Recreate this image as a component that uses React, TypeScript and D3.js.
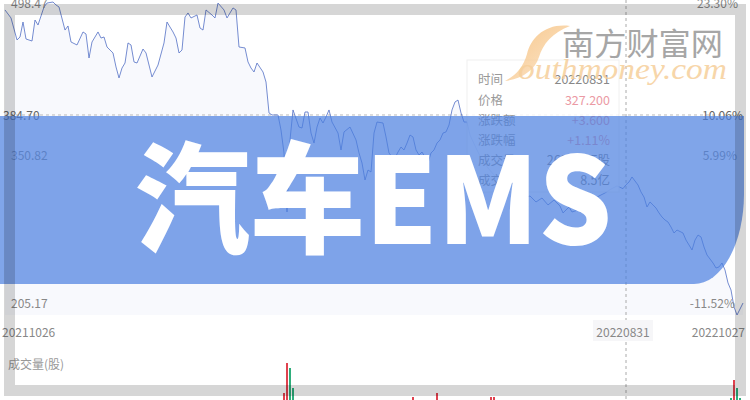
import React from 'react';
import * as d3 from 'd3';

const days = [0,2,4,5,6,7,9,10,11,13,14,16,17,18,20,21,22,24,26,27,28,29,31,32,33,34,36,37,38,39,40,41,42,43,44,46,47,49,51,53,54,55,56,57,58,59,60,61,62,64,65,66,67,69,70,71,73,74,76,77,78,80,81,82,83,84,86,87,88,89,91,92,93,94,95,96,98,99,100,101,102,103,104,105,106,107,108,109,111,112,113,115,117,118,119,120,121,122,123,124,126,127,128,129,130,131,132,133,134,135,136,137,138,139,140,141,142,143,144,145,146,147,148,149,150,151,152,153,154,155,157,159,161,163,165,167,169,171,173,175,177,179,181,183,185,186,188,189,191,192,194,196,198,200,202,204,206,207,208,209,211,212,213,214,215,216,217,218,219,220,221,222,223,224,226,227,228,229,230,231,232,233,234,236,237,238,239,240,241,242,243,244,246];
const prices = [491.0,483.5,462.9,465.7,479.7,463.8,461.9,481.6,476.9,493.8,497.5,498.47,495.7,493.8,472.2,476.0,461.0,458.2,470.4,468.5,446.0,461.0,470.4,464.7,465.7,456.3,450.7,437.6,427.3,436.6,441.3,460.1,458.2,442.3,441.3,454.4,450.7,428.2,439.4,460.1,479.7,475.0,470.4,464.7,450.7,453.5,484.4,488.2,483.5,486.3,474.1,472.2,491.0,486.3,483.5,497.5,491.0,483.5,492.9,491.0,456.3,455.4,442.3,436.6,432.9,441.3,432.9,423.5,394.5,392.6,392.6,378.5,357.0,301.7,369.2,397.3,381.3,380.4,395.4,395.4,375.7,366.3,381.3,389.8,385.1,390.7,397.3,386.0,375.7,359.8,376.7,381.3,369.2,357.0,347.6,331.7,341.0,339.2,375.7,386.0,385.1,372.0,357.0,353.2,352.3,357.9,362.6,359.8,366.3,373.8,372.0,359.8,355.1,357.9,353.2,347.6,357.0,359.8,366.3,369.2,375.7,376.7,383.2,397.3,404.8,406.6,394.5,386.0,386.0,373.8,361.7,350.4,342.9,336.4,331.7,326.1,322.3,319.5,314.8,316.7,311.1,314.8,308.3,312.9,307.3,300.8,306.4,301.7,303.6,300.8,307.3,312.9,316.7,319.5,323.2,326.1,323.6,327.2,329.8,334.5,327.0,320.4,315.7,306.4,311.1,308.3,305.4,300.8,297.0,294.2,292.3,287.6,282.0,284.8,282.0,275.4,270.8,266.1,275.4,280.1,278.3,268.9,261.4,253.9,249.2,250.2,253.9,247.3,235.2,228.6,212.7,205.17,216.4];

const volDays = [93,94,95,96,136,144,162,163,242,243,244,245];
const volumes = [7000,37000,32000,12000,3000,7000,3000,3000,2000,20000,12000,2000];
const volUp = [true,true,false,false,true,true,true,true,false,true,false,false];

const dateLabels = ['20211026','20220831','20221027'];
const dateDays = [0,207,246];
const priceLabels = ['498.47','384.70','350.82','205.17'];
const priceLevels = [498.47,392.6,350.82,205.17];
const pctLabels = ['23.30%','10.06%','5.99%','-11.52%'];
const tipLabels = ['时间','价格','涨跌额','涨跌幅','成交量','成交额'];
const tipValues = ['20220831','327.200','+3.600','+1.11%','2620.7万股','8.5亿'];
const crossDay = 207;
const crossLevel = 392.6;
const title = '汽车EMS';

const W = 750, H = 400;
const FONT = '"Noto Sans CJK SC", "Noto Sans", sans-serif';

export default function App() {
  const x = d3.scaleLinear().domain([0, 246]).range([5, 743]);
  const y = d3.scaleLinear().domain([205.17, 498.47]).range([315, 2]);
  const vh = d3.scaleLinear().domain([0, 40000]).range([0, 40]);
  const pts = days.map((d, i) => [d, prices[i]] as [number, number]);
  const line = d3.line<[number, number]>().x(d => x(d[0])).y(d => y(d[1]))(pts) || '';
  const area = d3.area<[number, number]>().x(d => x(d[0])).y0(315).y1(d => y(d[1]))(pts) || '';
  const cx = x(crossDay);
  const cy = y(crossLevel);
  const leftX = [11, 3, 11, 11];
  const leftDy = [6, 5, 0, -7];
  const rightX = [738, 743, 737, 735];
  const tipRowY = [79, 100, 120, 140, 160, 180];

  return (
    <svg width={W} height={H} style={{ position: 'absolute', left: 0, top: 0, background: '#fff' }} fontFamily={FONT}>
      <defs>
        <linearGradient id="sw" x1="0" y1="0" x2="1" y2="1">
          <stop offset="0" stopColor="#f4b261" />
          <stop offset="1" stopColor="#fbe1c0" />
        </linearGradient>
      </defs>
      <rect x={0} y={0} width={W} height={H} fill="#fff" />
      <path d={area} fill="#5470c6" opacity={0.04} />
      <line x1={cx} x2={cx} y1={0} y2={H} stroke="#aaa" strokeDasharray="3,3" strokeWidth={1} />
      <line x1={10} x2={742} y1={cy} y2={cy} stroke="#bbb" strokeDasharray="3,3" strokeWidth={1} />
      <path d={line} fill="none" stroke="#5470c6" strokeOpacity={0.8} strokeWidth={1} strokeLinejoin="round" />
      <text x={8} y={369} fontSize={12} fill="#999">成交量(股)</text>
      {volDays.map((d, i) => (
        <rect key={i} x={x(d) - 1} y={400 - vh(volumes[i])} width={2} height={vh(volumes[i])} fill={volUp[i] ? '#e0424f' : '#2fae7c'} />
      ))}
      {priceLabels.map((t, i) => (
        <text key={'l' + i} x={leftX[i]} y={y(priceLevels[i]) + leftDy[i]} fontSize={12} fill={i === 1 ? '#666' : '#888'}>{t}</text>
      ))}
      {pctLabels.map((t, i) => (
        <text key={'r' + i} x={rightX[i]} y={y(priceLevels[i]) + leftDy[i]} fontSize={12} fill={i === 1 ? '#666' : '#888'} textAnchor="end">{t}</text>
      ))}
      <rect x={x(dateDays[1]) - 33} y={320} width={60} height={21} fill="#f6f6f8" />
      {dateLabels.map((t, i) => (
        <text key={'d' + i} x={i === 0 ? 2 : i === 1 ? x(dateDays[i]) - 3 : x(dateDays[i]) + 2} y={337} fontSize={12} fill="#888"
          textAnchor={i === 0 ? 'start' : i === 1 ? 'middle' : 'end'}>{t}</text>
      ))}
      <rect x={467} y={60} width={152} height={132} fill="#fff" opacity={0.85} stroke="#eee" />
      {tipLabels.map((t, i) => (
        <text key={'tl' + i} x={478} y={tipRowY[i] + 4.5} fontSize={12.5} fill="#999">{t}</text>
      ))}
      {tipValues.map((t, i) => (
        <text key={'tv' + i} x={610} y={tipRowY[i] + 4.5} fontSize={12.5} textAnchor="end"
          fill={i === 0 || i >= 4 ? '#888' : '#eb9aa4'}>{t}</text>
      ))}
      <path d="M570,26 C545,23 531,38 527,54 C523,68 515,76 505,81 C522,79 535,70 539,57 C543,44 552,33 570,26 Z" fill="url(#sw)" opacity={0.75} />
      <text x={562} y={55} fontSize={31} fill="#a6a6a6" textLength={161} lengthAdjust="spacingAndGlyphs">南方财富网</text>
      <text x={518} y={79} fontSize={30} fontStyle="italic" fontFamily='"Liberation Serif", "DejaVu Serif", serif' fill="#f6cf9b" opacity={0.85} textLength={209} lengthAdjust="spacingAndGlyphs">outhmoney.com</text>
      <path d="M0,116 H744 V194 A50,90 0 0 1 694,284 H0 Z" fill="#4a7fe0" opacity={0.7} />
      <text x={135} y={244} fontSize={120} fontWeight={900} fill="#fff" textLength={477} lengthAdjust="spacingAndGlyphs">{title}</text>
      <rect x={9.5} y={9.5} width={731} height={381} fill="none" stroke="#000" strokeOpacity={0.16} strokeWidth={11} />
    </svg>
  );
}
